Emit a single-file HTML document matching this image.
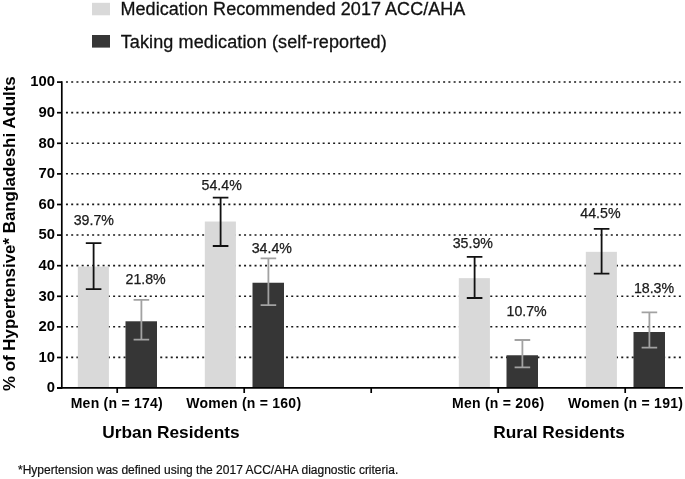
<!DOCTYPE html>
<html><head><meta charset="utf-8"><style>
html,body{margin:0;padding:0;background:#fff;}
body{width:685px;height:479px;overflow:hidden;}
svg{display:block;will-change:transform;font-family:"Liberation Sans", sans-serif;}
</style></head><body>
<svg width="685" height="479" viewBox="0 0 685 479">
<rect width="685" height="479" fill="#fff"/>
<line x1="65.95" y1="357.40" x2="682" y2="357.40" stroke="#1a1a1a" stroke-width="1.6" stroke-dasharray="2 3.2387"/>
<line x1="65.95" y1="326.80" x2="682" y2="326.80" stroke="#1a1a1a" stroke-width="1.6" stroke-dasharray="2 3.2387"/>
<line x1="65.95" y1="296.20" x2="682" y2="296.20" stroke="#1a1a1a" stroke-width="1.6" stroke-dasharray="2 3.2387"/>
<line x1="65.95" y1="265.60" x2="682" y2="265.60" stroke="#1a1a1a" stroke-width="1.6" stroke-dasharray="2 3.2387"/>
<line x1="65.95" y1="235.00" x2="682" y2="235.00" stroke="#1a1a1a" stroke-width="1.6" stroke-dasharray="2 3.2387"/>
<line x1="65.95" y1="204.40" x2="682" y2="204.40" stroke="#1a1a1a" stroke-width="1.6" stroke-dasharray="2 3.2387"/>
<line x1="65.95" y1="173.80" x2="682" y2="173.80" stroke="#1a1a1a" stroke-width="1.6" stroke-dasharray="2 3.2387"/>
<line x1="65.95" y1="143.20" x2="682" y2="143.20" stroke="#1a1a1a" stroke-width="1.6" stroke-dasharray="2 3.2387"/>
<line x1="65.95" y1="112.60" x2="682" y2="112.60" stroke="#1a1a1a" stroke-width="1.6" stroke-dasharray="2 3.2387"/>
<line x1="65.95" y1="82.00" x2="682" y2="82.00" stroke="#1a1a1a" stroke-width="1.6" stroke-dasharray="2 3.2387"/>
<rect x="77.8" y="266.52" width="31.1" height="121.48" fill="#d9d9d9"/>
<rect x="125.5" y="321.29" width="31.5" height="66.71" fill="#363636"/>
<path d="M85.8 243.2H101.39999999999999M93.6 243.2V289.2M85.8 289.2H101.39999999999999" stroke="#111111" stroke-width="1.8" fill="none"/>
<path d="M133.6 299.9H149.20000000000002M141.4 299.9V339.6M133.6 339.6H149.20000000000002" stroke="#a2a2a2" stroke-width="1.8" fill="none"/>
<rect x="204.8" y="221.54" width="31.1" height="166.46" fill="#d9d9d9"/>
<rect x="252.5" y="282.74" width="31.5" height="105.26" fill="#363636"/>
<path d="M212.79999999999998 197.6H228.4M220.6 197.6V246.0M212.79999999999998 246.0H228.4" stroke="#111111" stroke-width="1.8" fill="none"/>
<path d="M260.59999999999997 258.4H276.2M268.4 258.4V305.2M260.59999999999997 305.2H276.2" stroke="#a2a2a2" stroke-width="1.8" fill="none"/>
<rect x="458.8" y="278.15" width="31.1" height="109.85" fill="#d9d9d9"/>
<rect x="506.5" y="355.26" width="31.5" height="32.74" fill="#363636"/>
<path d="M466.8 256.9H482.40000000000003M474.6 256.9V298.0M466.8 298.0H482.40000000000003" stroke="#111111" stroke-width="1.8" fill="none"/>
<path d="M514.6 340.0H530.1999999999999M522.4 340.0V367.3M514.6 367.3H530.1999999999999" stroke="#a2a2a2" stroke-width="1.8" fill="none"/>
<rect x="585.8" y="251.83" width="31.1" height="136.17" fill="#d9d9d9"/>
<rect x="633.5" y="332.00" width="31.5" height="56.00" fill="#363636"/>
<path d="M593.8000000000001 228.9H609.4M601.6 228.9V273.7M593.8000000000001 273.7H609.4" stroke="#111111" stroke-width="1.8" fill="none"/>
<path d="M641.6 312.3H657.1999999999999M649.4 312.3V347.7M641.6 347.7H657.1999999999999" stroke="#a2a2a2" stroke-width="1.8" fill="none"/>
<path d="M61.8 81.2V388.6" stroke="#000" stroke-width="1.7"/>
<path d="M57 387.8H683" stroke="#000" stroke-width="1.8"/>
<path d="M57 388.10H62" stroke="#000" stroke-width="1.7"/>
<text x="55" y="392.30" text-anchor="end" font-weight="bold" font-size="14.8" fill="#000">0</text>
<path d="M57 357.50H62" stroke="#000" stroke-width="1.7"/>
<text x="55" y="361.70" text-anchor="end" font-weight="bold" font-size="14.8" fill="#000">10</text>
<path d="M57 326.90H62" stroke="#000" stroke-width="1.7"/>
<text x="55" y="331.10" text-anchor="end" font-weight="bold" font-size="14.8" fill="#000">20</text>
<path d="M57 296.30H62" stroke="#000" stroke-width="1.7"/>
<text x="55" y="300.50" text-anchor="end" font-weight="bold" font-size="14.8" fill="#000">30</text>
<path d="M57 265.70H62" stroke="#000" stroke-width="1.7"/>
<text x="55" y="269.90" text-anchor="end" font-weight="bold" font-size="14.8" fill="#000">40</text>
<path d="M57 235.10H62" stroke="#000" stroke-width="1.7"/>
<text x="55" y="239.30" text-anchor="end" font-weight="bold" font-size="14.8" fill="#000">50</text>
<path d="M57 204.50H62" stroke="#000" stroke-width="1.7"/>
<text x="55" y="208.70" text-anchor="end" font-weight="bold" font-size="14.8" fill="#000">60</text>
<path d="M57 173.90H62" stroke="#000" stroke-width="1.7"/>
<text x="55" y="178.10" text-anchor="end" font-weight="bold" font-size="14.8" fill="#000">70</text>
<path d="M57 143.30H62" stroke="#000" stroke-width="1.7"/>
<text x="55" y="147.50" text-anchor="end" font-weight="bold" font-size="14.8" fill="#000">80</text>
<path d="M57 112.70H62" stroke="#000" stroke-width="1.7"/>
<text x="55" y="116.90" text-anchor="end" font-weight="bold" font-size="14.8" fill="#000">90</text>
<path d="M57 82.10H62" stroke="#000" stroke-width="1.7"/>
<text x="55" y="86.30" text-anchor="end" font-weight="bold" font-size="14.8" fill="#000">100</text>
<path d="M117.2 388.0V393" stroke="#000" stroke-width="1.7"/>
<path d="M244.2 388.0V393" stroke="#000" stroke-width="1.7"/>
<path d="M371.2 388.0V393" stroke="#000" stroke-width="1.7"/>
<path d="M498.2 388.0V393" stroke="#000" stroke-width="1.7"/>
<path d="M625.2 388.0V393" stroke="#000" stroke-width="1.7"/>
<text x="73.7" y="224.6" font-size="14.2" fill="#1a1a1a" stroke="#1a1a1a" stroke-width="0.25">39.7%</text>
<text x="125.5" y="283.7" font-size="14.2" fill="#1a1a1a" stroke="#1a1a1a" stroke-width="0.25">21.8%</text>
<text x="201.6" y="190.3" font-size="14.2" fill="#1a1a1a" stroke="#1a1a1a" stroke-width="0.25">54.4%</text>
<text x="251.7" y="253.1" font-size="14.2" fill="#1a1a1a" stroke="#1a1a1a" stroke-width="0.25">34.4%</text>
<text x="452.7" y="247.6" font-size="14.2" fill="#1a1a1a" stroke="#1a1a1a" stroke-width="0.25">35.9%</text>
<text x="506.5" y="315.7" font-size="14.2" fill="#1a1a1a" stroke="#1a1a1a" stroke-width="0.25">10.7%</text>
<text x="580.3000000000001" y="217.5" font-size="14.2" fill="#1a1a1a" stroke="#1a1a1a" stroke-width="0.25">44.5%</text>
<text x="633.9000000000001" y="292.9" font-size="14.2" fill="#1a1a1a" stroke="#1a1a1a" stroke-width="0.25">18.3%</text>
<text x="70.7" y="407.7" font-size="14" font-weight="bold" letter-spacing="0.25" fill="#000">Men (n = 174)</text>
<text x="186.2" y="407.7" font-size="14" font-weight="bold" letter-spacing="0.25" fill="#000">Women (n = 160)</text>
<text x="452" y="407.7" font-size="14" font-weight="bold" letter-spacing="0.25" fill="#000">Men (n = 206)</text>
<text x="568" y="407.7" font-size="14" font-weight="bold" letter-spacing="0.25" fill="#000">Women (n = 191)</text>
<text x="102.3" y="438.2" font-size="17.3" font-weight="bold" fill="#000">Urban Residents</text>
<text x="493.3" y="438.2" font-size="17.3" font-weight="bold" fill="#000">Rural Residents</text>
<text transform="translate(15,391) rotate(-90)" font-size="16.9" font-weight="bold" fill="#000">% of Hypertensive* Bangladeshi Adults</text>
<rect x="92" y="2.8" width="18" height="12.5" fill="#d9d9d9"/>
<rect x="92" y="35" width="18" height="12.6" fill="#363636"/>
<text x="120.5" y="15.4" font-size="18" letter-spacing="0.05" fill="#111" stroke="#111" stroke-width="0.3">Medication Recommended 2017 ACC/AHA</text>
<text x="120.7" y="47.7" font-size="18" letter-spacing="0.12" fill="#111" stroke="#111" stroke-width="0.3">Taking medication (self-reported)</text>
<text x="18" y="474.1" font-size="12" fill="#111" stroke="#111" stroke-width="0.2">*Hypertension was defined using the 2017 ACC/AHA diagnostic criteria.</text>
</svg>
</body></html>
